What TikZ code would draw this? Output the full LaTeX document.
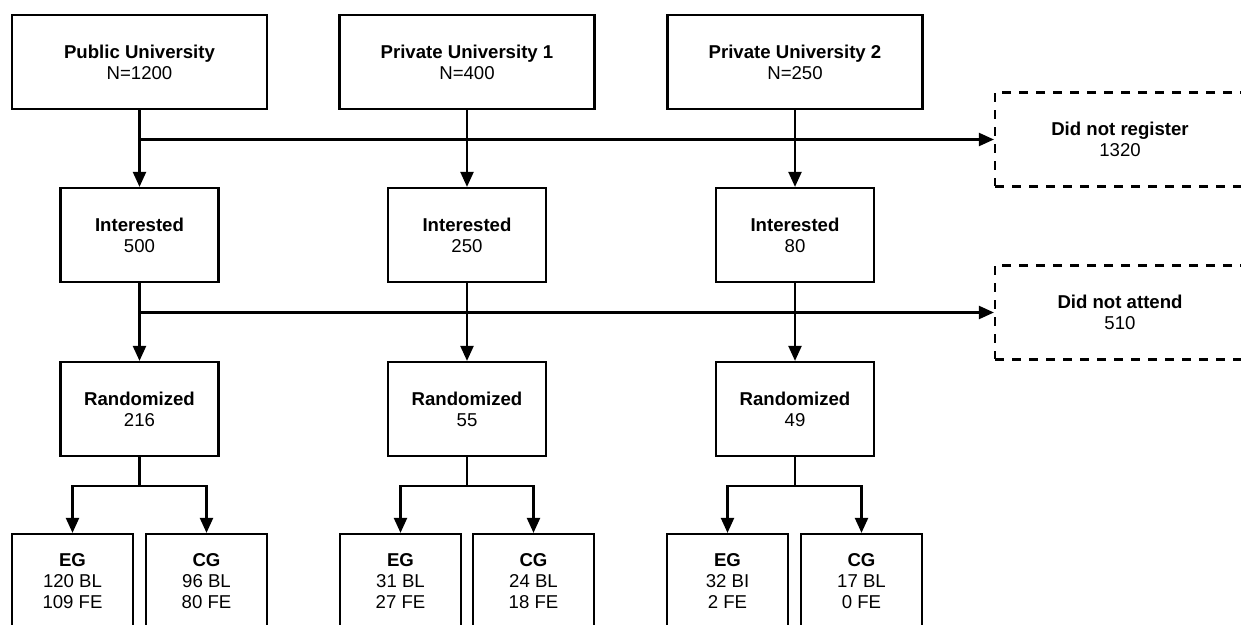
\documentclass[tikz,border=0pt]{standalone}
\usepackage{fontspec}
\setmainfont{Liberation Sans}
\usetikzlibrary{arrows.meta}

\begin{document}
\begin{tikzpicture}[
    x=0.5pt, y=-0.5pt,
    font=\fontsize{9.3}{10.6}\selectfont,
    box/.style={rectangle, draw, line width=1.1pt, align=center, minimum height=47pt, inner sep=2pt},
    uni/.style={box, minimum width=127.5pt},
    stage/.style={box, minimum width=79pt},
    group/.style={box, minimum width=60.5pt},
    drop/.style={box, dash pattern=on 4.5pt off 4pt, minimum width=125pt},
    arrow/.style={-{Triangle[width=6.5pt,length=7.5pt]}, line width=1.1pt},
    line/.style={line width=1.1pt}
]
\useasboundingbox (0,0) rectangle (1241,625);
\clip (0,0) rectangle (1241,625);

% Universities
\node[uni] (u1) at (139.5,62) {\textbf{Public University}\\N=1200};
\node[uni] (u2) at (467,62) {\textbf{Private University 1}\\N=400};
\node[uni] (u3) at (795,62) {\textbf{Private University 2}\\N=250};

% Interested
\node[stage] (i1) at (139.5,235) {\textbf{Interested}\\500};
\node[stage] (i2) at (467,235) {\textbf{Interested}\\250};
\node[stage] (i3) at (795,235) {\textbf{Interested}\\80};

% Randomized
\node[stage] (r1) at (139.5,409) {\textbf{Randomized}\\216};
\node[stage] (r2) at (467,409) {\textbf{Randomized}\\55};
\node[stage] (r3) at (795,409) {\textbf{Randomized}\\49};

% Groups
\node[group] (eg1) at (72.5,581) {\textbf{EG}\\120 BL\\109 FE};
\node[group] (cg1) at (206.5,581) {\textbf{CG}\\96 BL\\80 FE};
\node[group] (eg2) at (400.5,581) {\textbf{EG}\\31 BL\\27 FE};
\node[group] (cg2) at (533.5,581) {\textbf{CG}\\24 BL\\18 FE};
\node[group] (eg3) at (727.5,581) {\textbf{EG}\\32 BI\\2 FE};
\node[group] (cg3) at (861.5,581) {\textbf{CG}\\17 BL\\0 FE};

% Drop outs
\node[drop] (nr) at (1120,139.5) {\textbf{Did not register}\\1320};
\node[drop] (na) at (1120,312.5) {\textbf{Did not attend}\\510};

% Universities to interested
\draw[arrow] (u1) -- (i1);
\draw[arrow] (u2) -- (i2);
\draw[arrow] (u3) -- (i3);
\draw[arrow] (u1.south |- nr.west) -- (nr.west);

% Interested to randomized
\draw[arrow] (i1) -- (r1);
\draw[arrow] (i2) -- (r2);
\draw[arrow] (i3) -- (r3);
\draw[arrow] (i1.south |- na.west) -- (na.west);

% Randomized to groups
\coordinate (s1) at (139.5,486);
\coordinate (s2) at (467,486);
\coordinate (s3) at (795,486);
\draw[line] (r1) -- (s1);
\draw[line] (r2) -- (s2);
\draw[line] (r3) -- (s3);
\draw[arrow] (s1) -| (eg1);
\draw[arrow] (s1) -| (cg1);
\draw[arrow] (s2) -| (eg2);
\draw[arrow] (s2) -| (cg2);
\draw[arrow] (s3) -| (eg3);
\draw[arrow] (s3) -| (cg3);
\end{tikzpicture}
\end{document}
